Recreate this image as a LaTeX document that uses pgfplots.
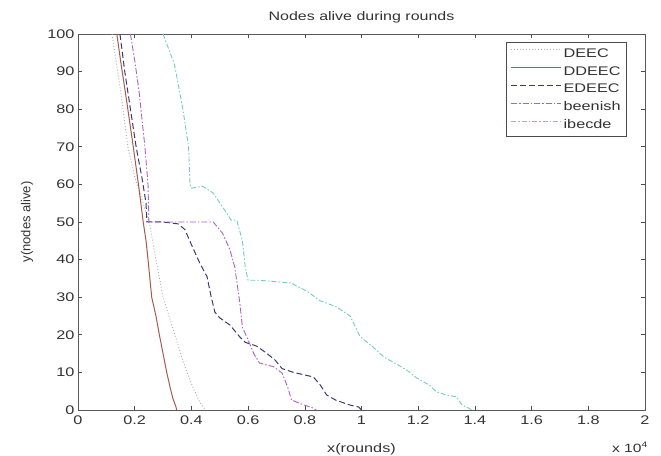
\documentclass[border=0pt]{standalone}
\usepackage{pgfplots}
\pgfplotsset{compat=1.18}
\usepackage{fontspec}
\setmainfont[FakeStretch=1.3]{Liberation Sans}
\newfontfamily\plainsans{Liberation Sans}
\definecolor{cDEEC}{HTML}{A8B4A8}
\definecolor{cDDEEC}{HTML}{A65A4E}
\definecolor{cEDEEC}{HTML}{3A3A78}
\definecolor{cBeen}{HTML}{B060C4}
\definecolor{cIbec}{HTML}{72CCC4}
\definecolor{cTxt}{HTML}{333333}

\begin{document}
\begin{tikzpicture}[x=1pt,y=1pt]
\useasboundingbox (0,0) rectangle (661,455);
\begin{axis}[
    at={(78pt,45pt)}, anchor=south west,
    scale only axis,
    width=567pt, height=376pt,
    xmin=0, xmax=2, ymin=0, ymax=100,
    xtick={0,0.2,0.4,0.6,0.8,1,1.2,1.4,1.6,1.8,2},
    xticklabels={0,0.2,0.4,0.6,0.8,1,1.2,1.4,1.6,1.8,2},
    ytick={0,10,...,100},
    tick align=inside,
    major tick length=4pt,
    axis line style={black!65, line width=0.8pt},
    tick style={black!70, line width=0.6pt},
    tick label style={font=\fontsize{12.5}{14}\selectfont, text=cTxt},
    xticklabel style={yshift=-2.5pt},
    /pgf/number format/assume math mode=true,
    title={Nodes alive during rounds},
    title style={font=\fontsize{12.3}{14}\selectfont, text=cTxt,
        at={(0.5,1)}, anchor=base, yshift=7pt},
    xlabel={x(rounds)},
    ylabel={y(nodes alive)},
    xlabel style={font=\fontsize{12.5}{14}\selectfont, text=cTxt,
        at={(0.5,0)}, anchor=base, yshift=-42.5pt},
    ylabel style={font=\plainsans\fontsize{13}{15}\selectfont, text=cTxt,
        at={(axis description cs:-0.09,0.5)}, anchor=center},
    legend style={at={(0.968,0.978)}, anchor=north east,
        font=\fontsize{12.5}{14}\selectfont, text=cTxt,
        draw=black!70, line width=0.6pt, inner sep=4pt,
        row sep=3.5pt,
        /tikz/every even column/.append style={column sep=3pt}},
    legend image code/.code={\draw[#1] (0pt,4pt) -- (50pt,4pt);},
    legend cell align=left,
    clip=true,
]
% DEEC
\addplot[cDEEC, line width=0.9pt, dash pattern=on 1pt off 2pt] coordinates {
(0.12,100) (0.15,85) (0.176,70) (0.20,62) (0.23,55) (0.254,49)
(0.27,42) (0.30,30) (0.34,20.5) (0.37,13) (0.40,7) (0.43,2) (0.45,0)
};
% DDEEC
\addplot[cDDEEC, line width=1pt] coordinates {
(0.137,100) (0.15,93) (0.17,83) (0.195,70) (0.215,59) (0.23,50)
(0.24,45) (0.247,40) (0.26,30) (0.275,25) (0.287,20) (0.30,15)
(0.313,10) (0.325,6) (0.335,3) (0.345,1) (0.348,0)
};
% EDEEC
\addplot[cEDEEC, line width=1pt, dash pattern=on 6pt off 3pt] coordinates {
(0.148,100) (0.165,90) (0.185,80) (0.205,70) (0.225,62) (0.24,55)
(0.243,50) (0.30,50) (0.353,49.5) (0.377,48) (0.40,44) (0.43,39)
(0.455,35.5) (0.47,30) (0.483,26) (0.50,24.5) (0.536,22.6) (0.57,19.5)
(0.59,18) (0.63,17) (0.667,15) (0.695,13.3) (0.72,11) (0.76,10)
(0.83,8.8) (0.855,6.6) (0.877,4) (0.91,2.6) (0.96,1.3) (0.99,0.8) (1.0,0)
};
% beenish
\addplot[cBeen, line width=0.9pt, dash pattern=on 6pt off 2pt on 1.5pt off 2pt] coordinates {
(0.185,100) (0.20,93) (0.215,85) (0.236,70) (0.247,60) (0.25,50)
(0.35,50) (0.42,50) (0.477,50) (0.51,47) (0.536,42.6) (0.553,38)
(0.57,29) (0.58,22) (0.60,18.6) (0.62,15) (0.64,12.5) (0.69,11.5)
(0.72,9.8) (0.74,6) (0.753,2.7) (0.78,1.8) (0.83,0.5) (0.84,0)
};
% ibecde
\addplot[cIbec, line width=0.9pt, dash pattern=on 5pt off 2pt on 1.5pt off 2pt] coordinates {
(0.30,100) (0.34,92) (0.37,80) (0.39,70) (0.395,60) (0.40,59)
(0.44,59.5) (0.477,57.7) (0.51,54) (0.54,50.5) (0.56,50.5) (0.58,45)
(0.59,38) (0.60,34.5) (0.64,34.5) (0.75,33.8) (0.81,31.5) (0.855,29)
(0.91,27.5) (0.96,25) (0.995,19.5) (1.04,16.8) (1.08,14) (1.11,12.8)
(1.16,10.6) (1.195,8.5) (1.24,6.6) (1.265,4.8) (1.30,4) (1.335,3.5)
(1.355,1.3) (1.37,0.8) (1.39,0)
};
\legend{DEEC, DDEEC, EDEEC, beenish, ibecde}
\end{axis}
\node[font=\fontsize{12}{14}\selectfont, text=cTxt, anchor=base east, inner sep=0pt] at (648,3) {x 10\textsuperscript{4}};
\end{tikzpicture}
\end{document}
